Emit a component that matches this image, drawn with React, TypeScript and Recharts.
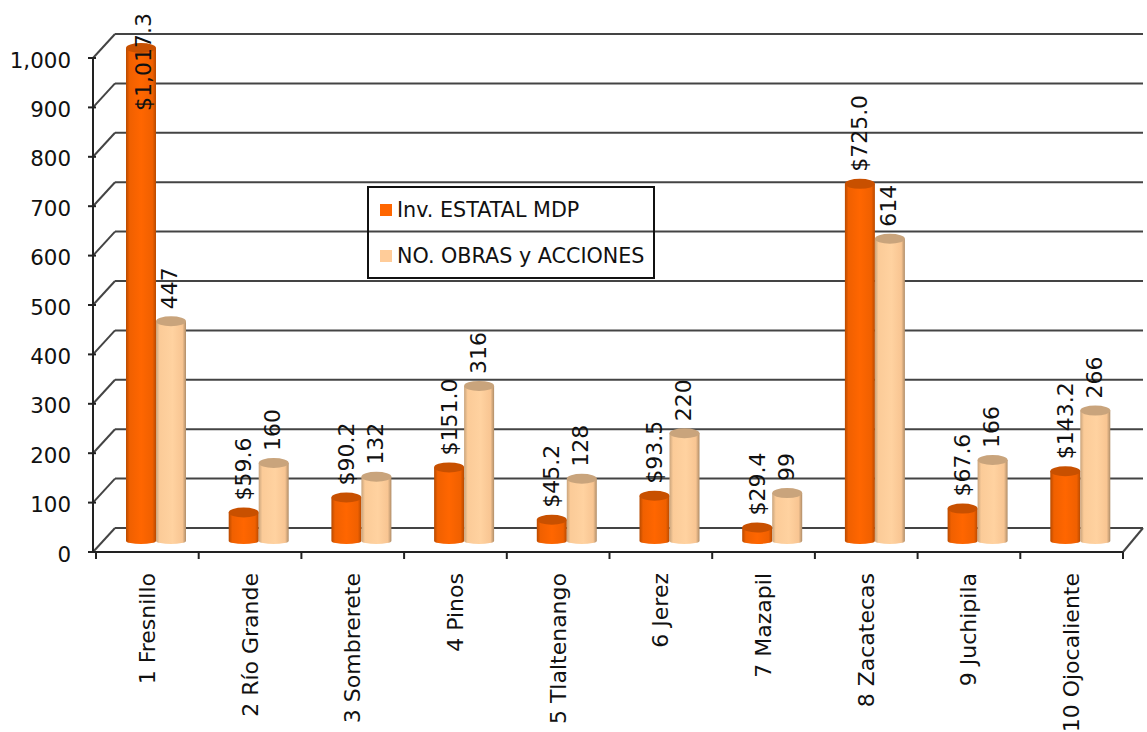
import React from "react";
import { BarChart, Bar, XAxis, YAxis, CartesianGrid, Legend, LabelList } from "recharts";

const municipios = [
  "1 Fresnillo", "2 Río Grande", "3 Sombrerete", "4 Pinos", "5 Tlaltenango",
  "6 Jerez", "7 Mazapil", "8 Zacatecas", "9 Juchipila", "10 Ojocaliente",
];
const inversion = [1017.3, 59.6, 90.2, 151.0, 45.2, 93.5, 29.4, 725.0, 67.6, 143.2];
const obras = [447, 160, 132, 316, 128, 220, 99, 614, 166, 266];
const yTicks = [0, 100, 200, 300, 400, 500, 600, 700, 800, 900, 1000];

const data = municipios.map((name, i) => ({ name, inversion: inversion[i], obras: obras[i] }));

const FONT = "'DejaVu Sans', Verdana, sans-serif";
const FONT_SIZE = 22;
const BAR_DX = 9;
const BAR_DY = -10;
const STEP = 102.7;
const UNIT_STEP = 49.4; // px between two y ticks
const AXIS_X = 93;
const WALL_DX = 22;
const WALL_DY = -24;
const WALL_END = 1143;
const CEILING_Y = 58; // the 3D box stops at 1,000, Fresnillo gets cut there
const FLOOR_Y = 552;
const INK = "#222";

// cylinder drawn from the rect the bar scale gives us
const cylinder = (gradient: string, topColor: string) => (props: any) => {
  const { x, y, width, height } = props;
  const left = x + BAR_DX;
  const top = Math.max(y, CEILING_Y) + BAR_DY;
  const bottom = y + height + BAR_DY - 1;
  const rx = width / 2;
  return (
    <g>
      <path
        d={`M${left},${top} L${left},${bottom} A${rx},3 0 0 0 ${left + width},${bottom} L${left + width},${top} Z`}
        fill={`url(#${gradient})`}
      />
      <ellipse cx={left + rx} cy={top} rx={rx} ry={5} fill={topColor} />
    </g>
  );
};

const barLabel = (format: (v: number) => string, nudge: number) => (props: any) => {
  const { x, y, width, value } = props;
  const text = format(value);
  const length = text.length * 0.6 * FONT_SIZE;
  let cx = x + BAR_DX + width / 2 + nudge;
  let base = y + BAR_DY - 12;
  // tallest label gets pushed down into the bar, the picture clips otherwise
  if (base - length < 12) {
    base = 111;
    cx += 2;
  }
  return (
    <text
      x={cx}
      y={base}
      transform={`rotate(-90 ${cx} ${base})`}
      dominantBaseline="central"
      fontFamily={FONT}
      fontSize={FONT_SIZE}
      fill="#111"
    >
      {text}
    </text>
  );
};

const money = (v: number) =>
  "$" + v.toLocaleString("en-US", { minimumFractionDigits: 1, maximumFractionDigits: 1 });

const gridLine = (props: any) => {
  const { x1, y1, key } = props;
  return (
    <g key={key} stroke="#444" strokeWidth={2} fill="none">
      <line x1={x1} y1={y1} x2={x1 + WALL_DX} y2={y1 + WALL_DY} />
      <line x1={x1 + WALL_DX} y1={y1 + WALL_DY} x2={WALL_END} y2={y1 + WALL_DY} />
      {Math.abs(y1 - FLOOR_Y) < 1 && (
        <line x1={WALL_END - 20} y1={y1} x2={WALL_END} y2={y1 + WALL_DY} />
      )}
    </g>
  );
};

const YTick = (props: any) => {
  const { y, payload } = props;
  return (
    <g>
      <line x1={AXIS_X - 5} y1={y} x2={AXIS_X + 3} y2={y} stroke={INK} strokeWidth={2} />
      {payload.value > 0 && (
        <line x1={AXIS_X} y1={y} x2={AXIS_X} y2={y + UNIT_STEP} stroke={INK} strokeWidth={2} />
      )}
      <text x={71} y={y + 2} textAnchor="end" dominantBaseline="central" fontFamily={FONT} fontSize={21.4} fill="#111">
        {payload.value.toLocaleString("en-US")}
      </text>
    </g>
  );
};

const XTick = (props: any) => {
  const { x, payload, index } = props;
  const ty = FLOOR_Y + 21;
  return (
    <g>
      <line x1={x - STEP / 2} y1={FLOOR_Y} x2={x - STEP / 2} y2={FLOOR_Y + 7} stroke={INK} strokeWidth={2} />
      {index === municipios.length - 1 && (
        <line x1={x + STEP / 2} y1={FLOOR_Y} x2={x + STEP / 2} y2={FLOOR_Y + 7} stroke={INK} strokeWidth={2} />
      )}
      <text
        x={x}
        y={ty}
        transform={`rotate(-90 ${x} ${ty})`}
        textAnchor="end"
        dominantBaseline="central"
        fontFamily={FONT}
        fontSize={FONT_SIZE}
        fill="#111"
      >
        {payload.value}
      </text>
    </g>
  );
};

const LegendBox = ({ payload }: any) => (
  <div
    style={{
      boxSizing: "border-box",
      width: 288,
      height: 93,
      border: "2px solid #111",
      fontFamily: FONT,
      fontSize: 20.7,
      color: "#111",
      position: "relative",
    }}
  >
    {(payload || []).map((item: any, i: number) => (
      <div key={item.value} style={{ position: "absolute", left: 11, top: 10 + i * 46, display: "flex", alignItems: "center", whiteSpace: "nowrap" }}>
        <span style={{ width: 12, height: 12, background: item.color, marginRight: 5 }} />
        {item.value}
      </div>
    ))}
  </div>
);

export default function App() {
  return (
    <div style={{ position: "absolute", left: 0, top: 0, width: 1147, height: 732, background: "#fff", overflow: "hidden" }}>
      <BarChart
        width={1147}
        height={732}
        data={data}
        barSize={30}
        barGap={0}
        margin={{ top: 8.6, right: 24, bottom: 0, left: 0 }}
      >
        <defs>
          <linearGradient id="cilNaranja" x1="0" y1="0" x2="1" y2="0">
            <stop offset="0%" stopColor="#B84A00" />
            <stop offset="12%" stopColor="#F06000" />
            <stop offset="50%" stopColor="#FF6600" />
            <stop offset="88%" stopColor="#F06000" />
            <stop offset="100%" stopColor="#B84A00" />
          </linearGradient>
          <linearGradient id="cilDurazno" x1="0" y1="0" x2="1" y2="0">
            <stop offset="0%" stopColor="#C9A47C" />
            <stop offset="12%" stopColor="#FBCB98" />
            <stop offset="55%" stopColor="#FFD2A0" />
            <stop offset="88%" stopColor="#F8C592" />
            <stop offset="100%" stopColor="#B08D68" />
          </linearGradient>
        </defs>
        <CartesianGrid vertical={false} horizontal={gridLine} syncWithTicks />
        <XAxis
          dataKey="name"
          interval={0}
          padding={{ left: 3, right: 0 }}
          axisLine={{ stroke: INK, strokeWidth: 2 }}
          tickLine={false}
          tick={XTick}
          height={180}
        />
        <YAxis
          width={AXIS_X}
          domain={[0, 1100]}
          ticks={yTicks}
          interval={0}
          axisLine={false}
          tickLine={false}
          tick={YTick}
        />
        <Bar
          dataKey="inversion"
          name="Inv. ESTATAL MDP"
          fill="#FF6600"
          shape={cylinder("cilNaranja", "#C85000")}
          isAnimationActive={false}
        >
          <LabelList dataKey="inversion" content={barLabel(money, 0)} />
        </Bar>
        <Bar
          dataKey="obras"
          name="NO. OBRAS y ACCIONES"
          fill="#FFCC99"
          shape={cylinder("cilDurazno", "#C9A47C")}
          isAnimationActive={false}
        >
          <LabelList dataKey="obras" content={barLabel((v) => String(v), -1)} />
        </Bar>
        <Legend
          layout="horizontal"
          verticalAlign="middle"
          align="center"
          content={LegendBox}
          wrapperStyle={{ left: 367, top: 186, width: 288, height: 93 }}
        />
      </BarChart>
    </div>
  );
}
